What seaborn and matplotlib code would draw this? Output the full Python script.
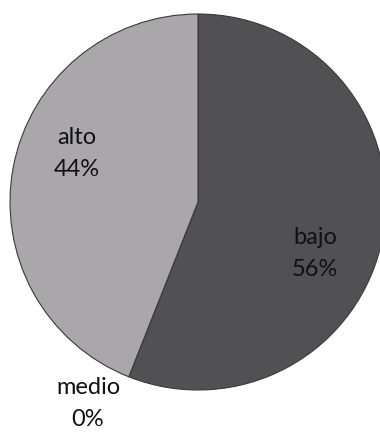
import numpy as np
import matplotlib
matplotlib.use("Agg")
import matplotlib.pyplot as plt
import seaborn as sns

# data
labels = ["bajo", "medio", "alto"]
values = [56, 0, 44]
colors = ["#515052", "#8a888b", "#a9a7aa"]

sns.set_style("white")
plt.rcParams['font.family'] = ['Lato', 'DejaVu Sans']

fig = plt.figure(figsize=(3.8, 4.34), dpi=100)
ax = fig.add_axes([0, 0, 1, 1])

cx, cy, r = 198, 434 - 202, 188
wedges, _ = ax.pie(values, colors=colors, startangle=90, counterclock=False,
                   center=(cx, cy), radius=r, frame=True,
                   wedgeprops=dict(edgecolor="#3a3a3a", linewidth=0.8))
ax.set_xlim(0, 380)
ax.set_ylim(0, 434)
ax.set_aspect("equal")
ax.axis("off")

# label positions (pixel offsets from centre, y downwards)
offsets = {"bajo": (117, 52), "medio": (-110, 202), "alto": (-121, -48)}
for lab, val in zip(labels, values):
    dx, dy = offsets[lab]
    ax.text(cx + dx, cy - dy + 16, lab, ha="center", va="center", fontsize=17, color="#111111")
    ax.text(cx + dx, cy - dy - 16, f"{val}%", ha="center", va="center", fontsize=17, color="#111111")

fig.savefig("out.png", dpi=100)
